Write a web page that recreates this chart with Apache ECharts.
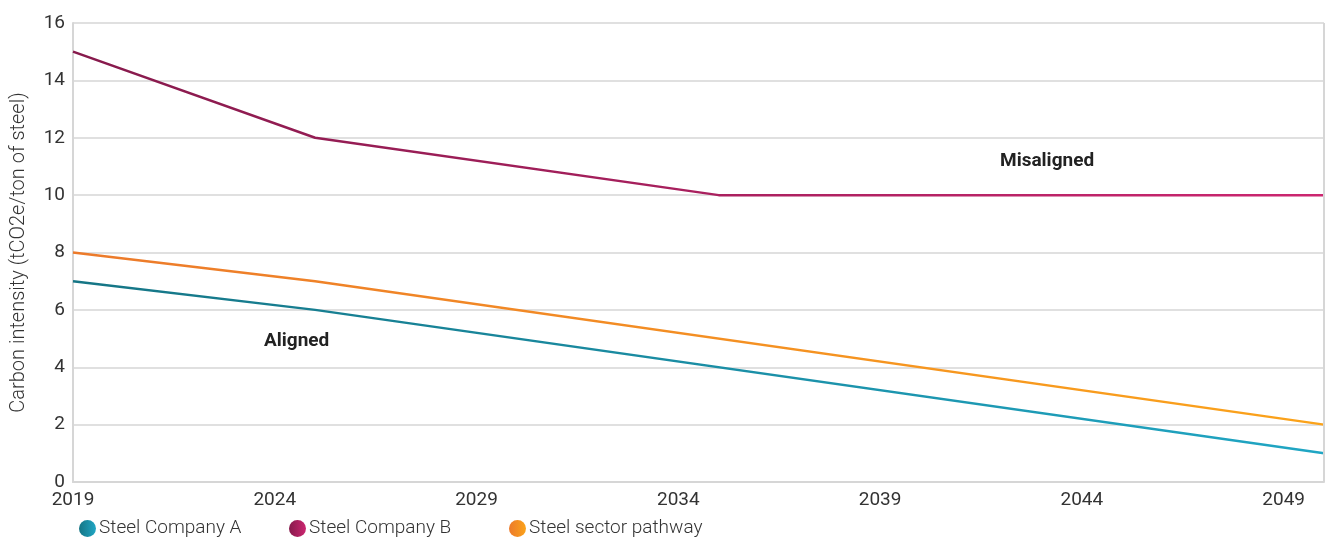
<!DOCTYPE html>
<html>
<head>
<meta charset="utf-8">
<script src="https://cdn.jsdelivr.net/npm/echarts@6/dist/echarts.min.js"></script>
<style>
  html, body { margin: 0; padding: 0; background: #fff; }
  #main { width: 1332px; height: 538px; }
</style>
</head>
<body>
<div id="main"></div>
<script>
// data
var seriesNames = ['Steel Company A', 'Steel Company B', 'Steel sector pathway'];
var companyA = [[2019, 7], [2025, 6], [2050, 1]];
var companyB = [[2019, 15], [2025, 12], [2035, 10], [2050, 10]];
var pathway = [[2019, 8], [2025, 7], [2050, 2]];
var yearLabels = [2019, 2024, 2029, 2034, 2039, 2044, 2049];

var FONT = 'Roboto, sans-serif';

function grad(c1, c2) {
  return new echarts.graphic.LinearGradient(0, 0, 1, 0, [
    { offset: 0, color: c1 },
    { offset: 1, color: c2 }
  ]);
}

var colA = grad('#157585', '#20a6c4');
var colB = grad('#861a4c', '#cc2670');
var colP = grad('#ec7a2b', '#fba31a');

// one legend per item so each sits where the reference puts it
var legendLeft = [74, 284, 504];
function legendItem(i) {
  return {
    left: legendLeft[i],
    top: 514,
    itemWidth: 17,
    itemHeight: 17,
    icon: 'circle',
    textStyle: { fontFamily: FONT, fontSize: 19, color: '#333', fontWeight: 300, padding: [0, 0, 0, -2] },
    data: [seriesNames[i]]
  };
}

var myChart = echarts.init(document.getElementById('main'));
var option = {
  animation: false,
  grid: { left: 73, right: 8, top: 23, bottom: 56, containLabel: false, outerBoundsMode: 'none' },
  legend: [legendItem(0), legendItem(1), legendItem(2)],
  xAxis: {
    type: 'value',
    min: 2019,
    max: 2050,
    interval: 1,
    axisLine: { show: true, lineStyle: { color: '#d6d6d6', width: 2 } },
    axisTick: { show: false },
    splitLine: { show: false },
    axisLabel: {
      fontFamily: FONT, fontSize: 19, color: '#333', margin: 9,
      showMaxLabel: false,
      formatter: function (v) { return yearLabels.indexOf(v) >= 0 ? String(v) : ''; }
    }
  },
  yAxis: {
    type: 'value',
    min: 0,
    max: 16,
    interval: 2,
    name: 'Carbon intensity (tCO2e/ton of steel)',
    nameLocation: 'middle',
    nameGap: 44,
    nameTextStyle: { fontFamily: FONT, fontSize: 20, color: '#333', fontWeight: 300 },
    axisLine: { show: true, lineStyle: { color: '#d6d6d6', width: 2 } },
    axisTick: { show: false },
    splitLine: { show: true, lineStyle: { color: '#d6d6d6', width: 1.5 } },
    axisLabel: { fontFamily: FONT, fontSize: 19, color: '#333', margin: 8 }
  },
  series: [
    {
      name: seriesNames[0], type: 'line', data: companyA, symbol: 'none',
      lineStyle: { width: 2.5, color: colA }, itemStyle: { color: colA }, z: 3
    },
    {
      name: seriesNames[1], type: 'line', data: companyB, symbol: 'none',
      lineStyle: { width: 2.5, color: colB }, itemStyle: { color: colB }, z: 3,
      markLine: {
        silent: true, symbol: 'none', label: { show: false },
        lineStyle: { color: '#d6d6d6', width: 2, type: 'solid' },
        data: [{ xAxis: 2050 }]
      }
    },
    {
      name: seriesNames[2], type: 'line', data: pathway, symbol: 'none',
      lineStyle: { width: 2.5, color: colP }, itemStyle: { color: colP }, z: 3
    }
  ],
  graphic: [
    {
      type: 'text', left: 1000, top: 152,
      style: { text: 'Misaligned', fontFamily: FONT, fontSize: 19, fontWeight: 'bold', fill: '#222' }
    },
    {
      type: 'text', left: 264, top: 332,
      style: { text: 'Aligned', fontFamily: FONT, fontSize: 19, fontWeight: 'bold', fill: '#222' }
    }
  ]
};
myChart.setOption(option);
</script>
</body>
</html>
